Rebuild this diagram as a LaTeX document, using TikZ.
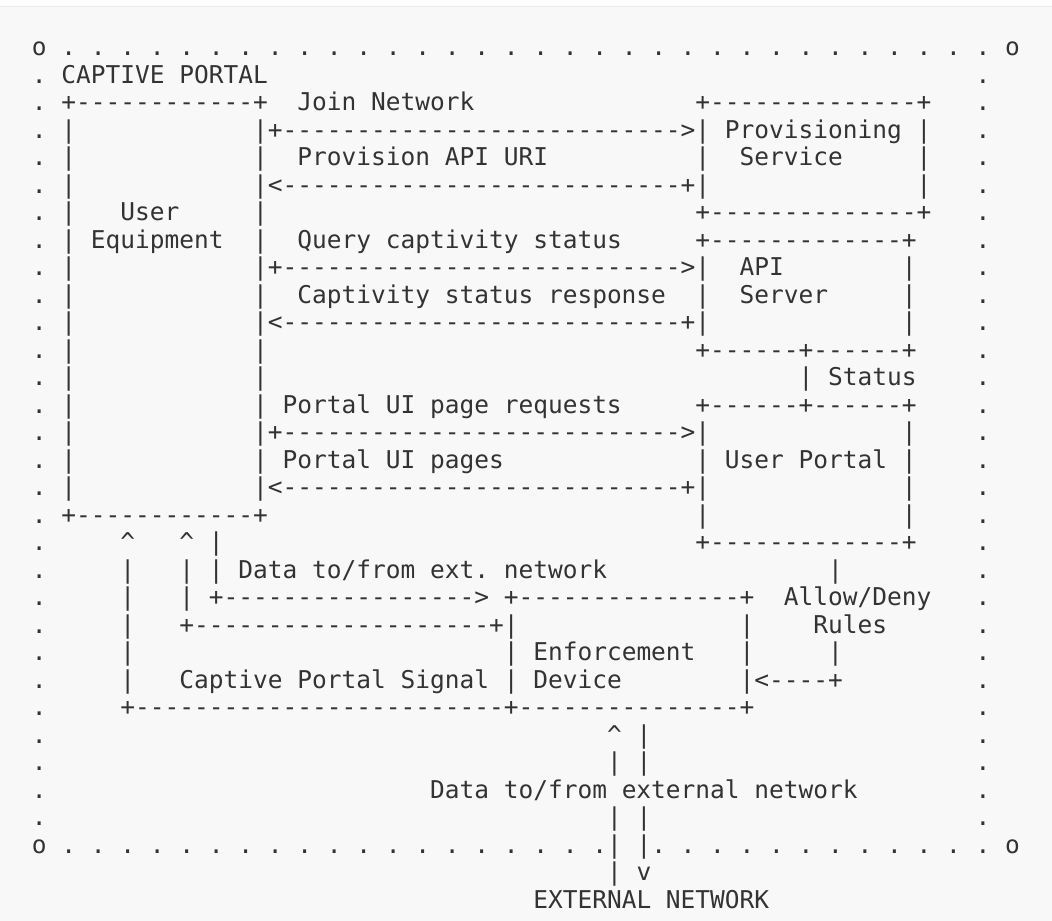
\documentclass[tikz,border=0pt]{standalone}
\usepackage{fontspec}
\setmonofont{DejaVu Sans Mono}
\definecolor{ink}{HTML}{333333}
\definecolor{paper}{HTML}{F8F8F8}
\newcommand{\dashes}[1]{\foreach \i in {1,...,#1}{-}}
\newcommand{\caret}{\textasciicircum}
\tikzset{
    art/.style={anchor=base west, inner sep=0pt, text=ink,
        font=\ttfamily\fontsize{24.5pt}{27.5pt}\selectfont}
}

\begin{document}
\begin{tikzpicture}[x=14.75pt, y=-27.5pt, shift={(31.6pt,-56pt)}]
    \fill[white] (-31.6pt,56pt) rectangle (1020.4pt,-865pt);
    \fill[paper] (-31.6pt,50pt) rectangle (1020.4pt,-865pt);
    \draw[black!8] (-31.6pt,50pt) -- (1020.4pt,50pt);
    \useasboundingbox (-31.6pt,56pt) rectangle (1020.4pt,-865pt);

    \node[art] (c1) at (0,0) {o};
    \node[art] (c2) at (66,0) {o};
    \node[art] (c3) at (0,29) {o};
    \node[art] (c4) at (66,29) {o};
    \foreach \c in {2,4,...,64} \node[art] (t\c) at (\c,0) {.};
    \foreach \c in {2,4,...,38,42,44,...,64} \node[art] (b\c) at (\c,29) {.};
    \foreach \r in {1,...,28} {
        \node[art] (l\r) at (0,\r) {.};
        \node[art] (r\r) at (64,\r) {.};
    }
    \node[art] (portal) at (2,1) {CAPTIVE PORTAL};

    \node[art] (ueTop) at (2,2) {+\dashes{12}+};
    \foreach \r in {3,...,16} {
        \node[art] (ueL\r) at (2,\r) {|};
        \node[art] (ueR\r) at (15,\r) {|};
    }
    \node[art] (ueBot) at (2,17) {+\dashes{12}+};
    \node[art] (ue1) at (6,6) {User};
    \node[art] (ue2) at (4,7) {Equipment};

    \node[art] (provTop) at (45,2) {+\dashes{14}+};
    \foreach \r in {3,4,5} {
        \node[art] (provL\r) at (45,\r) {|};
        \node[art] (provR\r) at (60,\r) {|};
    }
    \node[art] (provBot) at (45,6) {+\dashes{14}+};
    \node[art] (prov1) at (47,3) {Provisioning};
    \node[art] (prov2) at (48,4) {Service};
    \node[art] (join) at (18,2) {Join Network};
    \node[art] (joinArr) at (16,3) {+\dashes{27}>};
    \node[art] (uri) at (18,4) {Provision API URI};
    \node[art] (uriArr) at (16,5) {<\dashes{27}+};

    \node[art] (apiTop) at (45,7) {+\dashes{13}+};
    \foreach \r in {8,9,10} {
        \node[art] (apiL\r) at (45,\r) {|};
        \node[art] (apiR\r) at (59,\r) {|};
    }
    \node[art] (apiBot) at (45,11) {+\dashes{6}+\dashes{6}+};
    \node[art] (api1) at (48,8) {API};
    \node[art] (api2) at (48,9) {Server};
    \node[art] (query) at (18,7) {Query captivity status};
    \node[art] (queryArr) at (16,8) {+\dashes{27}>};
    \node[art] (resp) at (18,9) {Captivity status response};
    \node[art] (respArr) at (16,10) {<\dashes{27}+};

    \node[art] (statusBar) at (52,12) {|};
    \node[art] (status) at (54,12) {Status};

    \node[art] (upTop) at (45,13) {+\dashes{6}+\dashes{6}+};
    \foreach \r in {14,...,17} {
        \node[art] (upL\r) at (45,\r) {|};
        \node[art] (upR\r) at (59,\r) {|};
    }
    \node[art] (upBot) at (45,18) {+\dashes{13}+};
    \node[art] (up) at (47,15) {User Portal};
    \node[art] (pageReq) at (17,13) {Portal UI page requests};
    \node[art] (pageReqArr) at (16,14) {+\dashes{27}>};
    \node[art] (pages) at (17,15) {Portal UI pages};
    \node[art] (pagesArr) at (16,16) {<\dashes{27}+};

    \node[art] (sigUp) at (6,18) {\caret};
    \foreach \r in {19,...,23} \node[art] (sigL\r) at (6,\r) {|};
    \node[art] (sig) at (10,23) {Captive Portal Signal};
    \node[art] (extUp) at (10,18) {\caret};
    \foreach \r in {19,20} \node[art] (extL\r) at (10,\r) {|};
    \node[art] (extRet) at (10,21) {+\dashes{20}+};
    \foreach \r in {18,19} \node[art] (extR\r) at (12,\r) {|};
    \node[art] (extArr) at (12,20) {+\dashes{17}>};
    \node[art] (ext) at (14,19) {Data to/from ext. network};

    \node[art] (efTop) at (32,20) {+\dashes{15}+};
    \foreach \r in {21,22,23} {
        \node[art] (efL\r) at (32,\r) {|};
        \node[art] (efR\r) at (48,\r) {|};
    }
    \node[art] (efBot) at (6,24) {+\dashes{25}+\dashes{15}+};
    \node[art] (ef1) at (34,22) {Enforcement};
    \node[art] (ef2) at (34,23) {Device};

    \node[art] (ruleBar1) at (54,19) {|};
    \node[art] (rule1) at (51,20) {Allow/Deny};
    \node[art] (rule2) at (53,21) {Rules};
    \node[art] (ruleBar2) at (54,22) {|};
    \node[art] (ruleArr) at (49,23) {<\dashes{4}+};

    \node[art] (inUp) at (39,25) {\caret};
    \foreach \r in {26,28,29,30} \node[art] (inL\r) at (39,\r) {|};
    \foreach \r in {25,26,28,29} \node[art] (outL\r) at (41,\r) {|};
    \node[art] (outDn) at (41,30) {v};
    \node[art] (net) at (27,27) {Data to/from external network};
    \node[art] (extNet) at (34,31) {EXTERNAL NETWORK};
\end{tikzpicture}
\end{document}
